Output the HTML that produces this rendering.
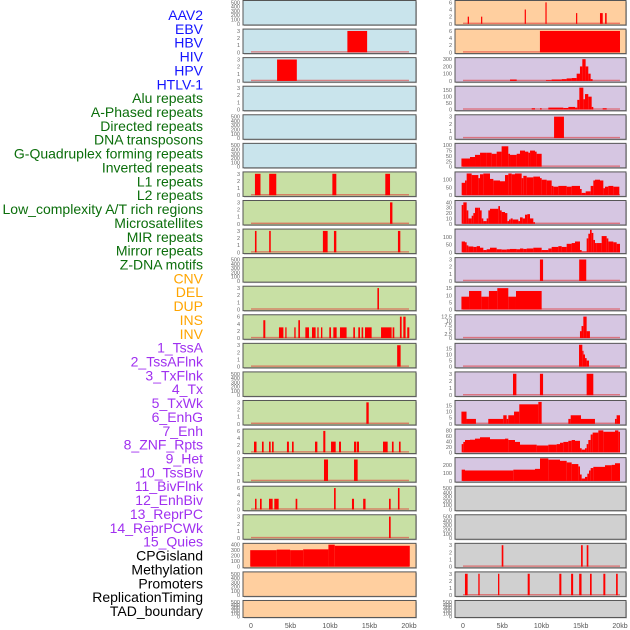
<!DOCTYPE html>
<html><head><meta charset="utf-8">
<style>
body{margin:0;background:#fff;width:630px;height:630px;overflow:hidden}
svg{display:block}
</style></head>
<body>
<svg id="chart" width="630" height="630" xmlns="http://www.w3.org/2000/svg"></svg>
<script>
const trackNames=["AAV2","EBV","HBV","HIV","HPV","HTLV-1","Alu repeats","A-Phased repeats","Directed repeats","DNA transposons","G-Quadruplex forming repeats","Inverted repeats","L1 repeats","L2 repeats","Low_complexity A/T rich regions","Microsatellites","MIR repeats","Mirror repeats","Z-DNA motifs","CNV","DEL","DUP","INS","INV","1_TssA","2_TssAFlnk","3_TxFlnk","4_Tx","5_TxWk","6_EnhG","7_Enh","8_ZNF_Rpts","9_Het","10_TssBiv","11_BivFlnk","12_EnhBiv","13_ReprPC","14_ReprPCWk","15_Quies","CPGisland","Methylation","Promoters","ReplicationTiming","TAD_boundary"];
const trackGroups=["v","v","v","v","v","v","r","r","r","r","r","r","r","r","r","r","r","r","r","s","s","s","s","s","c","c","c","c","c","c","c","c","c","c","c","c","c","c","c","o","o","o","o","o"];
const xTicks=[0,5,10,15,20];
const xTickLabels=["0","5kb","10kb","15kb","20kb"];
const trackYMax=[525,3.15,3.15,3.15,525,525,3.15,3.15,3.15,525,3.15,6.3,3.15,525,3.15,6.3,3.15,6.3,3.15,410,525,525,6.3,6.3,310,175,3.15,105,145,42,145,3.15,15.8,13.1,18.5,3.15,18.5,82,280,525,525,3.15,3.15,525];
const trackTicks=[[0,100,200,300,400,500],[0,1,2,3],[0,1,2,3],[0,1,2,3],[0,100,200,300,400,500],[0,100,200,300,400,500],[0,1,2,3],[0,1,2,3],[0,1,2,3],[0,100,200,300,400,500],[0,1,2,3],[0,2,4,6],[0,1,2,3],[0,100,200,300,400,500],[0,1,2,3],[0,2,4,6],[0,1,2,3],[0,2,4,6],[0,1,2,3],[0,100,200,300,400],[0,100,200,300,400,500],[0,100,200,300,400,500],[0,2,4,6],[0,2,4,6],[0,100,200,300],[0,50,100,150],[0,1,2,3],[0,25,50,75,100],[0,50,100],[0,10,20,30,40],[0,50,100],[0,1,2,3],[0,5,10,15],[0,2.5,5,7.5,10,12.5],[0,5,10,15],[0,1,2,3],[0,5,10,15],[0,20,40,60,80],[0,100,200],[0,100,200,300,400,500],[0,100,200,300,400,500],[0,1,2,3],[0,1,2,3],[0,100,200,300,400,500]];
const segEBV=[[12.2,14.7,3]];
const segHBV=[[3.3,5.8,3]];
const segL1=[[0.5,1.2,3],[2.3,3.2,3],[10.3,10.8,3],[17.0,17.6,3]];
const segL2=[[17.6,17.9,3]];
const segLowC=[[0.5,0.7,3],[2.3,2.5,3],[9.1,9.7,3],[10.5,10.8,3],[18.6,18.9,3]];
const segMIR=[[16.0,16.2,3]];
const segMirror=[[1.56,1.81,5],[3.54,4.1,3],[4.34,4.5,3],[5.48,5.65,3],[5.99,6.2,5],[6.88,7.34,3],[7.72,8.18,3],[8.4,8.56,3],[8.86,9.03,3],[9.91,10.13,3],[10.42,10.84,3],[11.26,12.1,3],[12.95,13.16,3],[13.58,13.8,3],[14.0,14.2,3],[14.43,15.27,3],[16.46,17.8,3],[17.93,18.14,3],[18.85,19.07,6],[19.28,19.57,6],[19.78,20.04,3]];
const segZDNA=[[18.5,18.94,3]];
const segDEL=[[14.6,14.9,3]];
const segDUP=[[0.38,0.7,3],[1.39,1.6,3],[2.28,2.49,3],[2.66,2.87,3],[4.55,4.8,3],[5.19,5.4,3],[8.1,8.4,3],[9.15,9.41,6],[10.13,10.72,3],[11.14,11.39,3],[13.04,13.3,3],[13.38,13.67,3],[16.71,17.3,3],[17.84,18.05,3],[18.73,18.94,3]];
const segINS=[[9.24,9.75,3],[13.04,13.5,3]];
const segINV=[[0.51,0.7,3],[1.14,1.35,3],[2.28,2.74,3],[2.95,3.5,3],[5.65,5.86,3],[10.51,10.72,6],[12.78,13.04,3],[14.2,14.5,3],[17.47,17.68,3],[18.6,18.8,6]];
const segTssA=[[17.47,17.68,3]];
const segTssAFlnk=[[-0.1,3.25,300],[3.25,4.95,310],[4.95,6.6,300],[6.6,9.8,315],[9.8,10.6,400],[10.6,20.1,380]];
const segR0=[[0.6,0.76,2],[2.3,2.45,2],[7.86,8.0,4],[10.5,10.65,6],[14.4,14.55,3],[17.45,17.8,3],[18.1,18.3,3]];
const segR1=[[9.8,20.0,6]];
const segR2=[[5.99,6.84,20],[10.57,11.29,10],[11.29,12.57,20],[12.57,13.2,25],[13.2,13.84,35],[13.84,14.48,40],[14.48,14.9,100],[14.9,15.2,200],[15.2,15.62,300],[15.62,15.96,200],[15.96,16.26,100],[16.26,16.51,25]];
const segR3=[[8.75,9.17,10],[9.81,10.02,10],[10.87,12.78,15],[12.78,13.42,12],[13.42,14.27,20],[14.27,14.56,15],[14.56,14.82,75],[14.82,15.33,170],[15.33,15.54,80],[15.54,15.96,120],[15.96,16.39,100],[16.39,16.6,20],[17.79,18.3,10]];
const segR4=[[11.6,12.86,3]];
const segR5=[[-0.2,0.89,38],[0.89,1.53,45],[1.53,2.17,55],[2.17,3.01,65],[3.01,3.65,65],[3.65,4.29,60],[4.29,4.92,70],[4.92,5.77,95],[5.77,5.99,60],[5.99,6.84,55],[6.84,7.26,60],[7.26,7.9,75],[7.9,8.32,70],[8.32,8.54,65],[8.54,9.17,75],[9.17,9.38,70],[9.38,10.02,60]];
const segR6v=[80,95,140,130,110,135,140,105,95,90,130,140,135,140,110,125,115,120,110,100,95,60,55,60,55,60,40,15,25,60,95,100,95,45,55,60,55];
const segR6e=[125,135,140,155,175,180,190,210,220,240,255,265,275,285,305,310,320,340,360,365,380,395,400,415,440,455,480,485,497,512,520,525,540,550,555,565,580,598];
const segR7v=[35,40,25,10,15,20,30,30,25,10,5,10,25,28,28,33,25,22,20,5,8,10,8,5,12,10,17,18,10,3];
const segR7e=[125,130,140,145,155,160,165,175,180,185,190,200,205,210,225,235,240,245,255,262,267,272,278,295,300,308,315,322,330,340,345];
const segR8v=[70,65,45,38,35,40,30,15,20,30,20,18,20,22,20,25,22,25,30,15,25,35,40,35,55,60,70,15,5,90,120,145,125,80,60,60,105,90,70,65,55];
const segR8e=[125,135,140,145,160,170,180,190,200,210,230,245,260,270,290,300,310,320,340,365,385,395,415,425,440,455,465,480,485,500,505,510,515,520,525,530,545,560,565,580,590,600];
const segR9=[[9.8,10.2,3],[14.8,15.7,3]];
const segR10=[[-0.2,0.77,9],[0.77,2.34,13],[2.34,3.3,9],[3.3,4.37,13],[4.37,5.77,15],[5.77,6.75,9],[6.75,10.02,13]];
const segR11=[[14.9,15.1,4],[15.1,15.33,7],[15.33,15.75,12.5],[15.75,16.17,4]];
const segR12=[[14.78,15.2,18],[15.2,15.33,13],[15.33,15.54,10],[15.54,15.75,7],[15.75,16.05,5]];
const segR13=[[6.37,6.8,3],[9.8,10.2,3],[15.75,16.6,3]];
const segR14=[[-0.2,0.45,10],[0.45,1.65,4],[3.22,5.13,4],[5.13,5.56,7],[5.56,5.77,4],[5.77,6.5,7],[6.5,7.17,10],[7.17,9.6,16],[9.6,10.02,18],[13.42,13.72,4],[13.72,15.03,7],[15.03,16.81,4],[19.36,19.57,4],[19.57,20.0,7]];
const segR15v=[30,38,45,46,50,55,48,50,45,38,28,25,28,30,35,38,42,45,42,15,10,15,30,45,65,72,80,75,80,75];
const segR15e=[125,130,135,150,165,180,210,255,265,285,300,350,385,410,420,430,445,455,465,480,485,495,500,505,512,518,535,550,585,595,600];
const segR16v=[140,130,140,150,280,265,250,230,210,180,80,30,50,90,130,160,175,195,200,220];
const segR16e=[125,135,280,345,360,385,420,440,455,475,480,485,495,502,507,512,520,555,575,585,600];
const segR19=[[4.93,5.14,3],[15.04,15.25,3],[15.76,15.97,3]];
const segR20=[[0.25,0.59,3],[1.95,2.12,3],[4.46,4.63,3],[8.24,8.5,3],[12.27,12.53,3],[13.77,14.03,3],[14.8,15.1,3],[16.18,16.39,3],[17.88,18.13,3],[19.5,19.71,3]];

function zoomKb(z){return (z/3-43)/7.85;}
function fromEdges(v,e){const out=[];for(let i=0;i<v.length;i++)out.push([zoomKb(e[i]),zoomKb(e[i+1]),v[i]]);return out;}
const trackSegs=[null,segEBV,segHBV,null,null,null,segL1,segL2,segLowC,null,segMIR,segMirror,segZDNA,null,segDEL,segDUP,segINS,segINV,segTssA,segTssAFlnk,null,null,
 segR0,segR1,segR2,segR3,segR4,segR5,fromEdges(segR6v,segR6e),fromEdges(segR7v,segR7e),fromEdges(segR8v,segR8e),segR9,segR10,segR11,segR12,segR13,segR14,fromEdges(segR15v,segR15e),fromEdges(segR16v,segR16e),null,null,segR19,segR20,null];

const NS="http://www.w3.org/2000/svg";
const svg=document.getElementById("chart");
function mk(tag,attrs,parent){const e=document.createElementNS(NS,tag);for(const k in attrs)e.setAttribute(k,attrs[k]);(parent||svg).appendChild(e);return e;}
const labelColor={v:"#1414ff",r:"#0b6e0b",s:"#ffa500",c:"#a030f0",o:"#000"};

trackNames.forEach((n,i)=>{
  const t=mk("text",{x:203,y:20+i*13.86,"text-anchor":"end","font-family":"Liberation Sans, sans-serif","font-size":"14",fill:labelColor[trackGroups[i]]});
  t.textContent=n;
  
  
});

const leftOrder=[0,1,2,3,4,5,6,7,8,9,10,11,12,13,14,15,16,17,18,19,20,21];
const rightOrder=[22,23,24,25,26,27,28,29,30,31,32,33,34,35,36,37,38,39,40,41,42,43];
const leftBgs=["#c9e4ec","#c9e4ec","#c9e4ec","#c9e4ec","#c9e4ec","#c9e4ec","#c8e0a4","#c8e0a4","#c8e0a4","#c8e0a4","#c8e0a4","#c8e0a4","#c8e0a4","#c8e0a4","#c8e0a4","#c8e0a4","#c8e0a4","#c8e0a4","#c8e0a4","#ffcf9f","#ffcf9f","#ffcf9f"];
const rightBgs=["#ffcf9f","#ffcf9f","#d6c6e2","#d6c6e2","#d6c6e2","#d6c6e2","#d6c6e2","#d6c6e2","#d6c6e2","#d6c6e2","#d6c6e2","#d6c6e2","#d6c6e2","#d6c6e2","#d6c6e2","#d6c6e2","#d6c6e2","#d0d0d0","#d0d0d0","#d0d0d0","#d0d0d0","#d0d0d0"];

function drawCol(order,bgs,px,pw,x0,pxPerKb,colName){
  order.forEach((ti,row)=>{
    const top=0.5+row*28.57;
    const h=row===21?17:24.5;
    const g=mk("g",{});
    
    
    mk("rect",{x:px+1,y:top+1,width:pw,height:h,fill:"#999",opacity:"0.6"},g);
    const bg=mk("rect",{x:px,y:top,width:pw,height:h,fill:bgs[row],stroke:"#555","stroke-width":"1"},g);
    
    
    const ymax=trackYMax[ti];
    const yb=top+h-1.2, yt=top+0.8;
    const ys=v=>yb-(v/ymax)*(yb-yt);
    const xs=kb=>x0+kb*pxPerKb;
    trackTicks[ti].forEach(tv=>{
      const tl=mk("text",{x:px-3,y:ys(tv)+2,"text-anchor":"end","font-family":"Liberation Sans, sans-serif","font-size":"5.5",fill:"#666"},g);
      tl.textContent=String(tv);
      
      
    });
    const segs=trackSegs[ti];
    if(segs){
      const bl=mk("rect",{x:xs(0),y:yb-1.2,width:xs(20)-xs(0),height:1.4,fill:"#e03030",opacity:"0.55"},g);
      
      
      segs.forEach(s=>{
        const x1=xs(s[0]),x2=xs(s[1]);
        const r=mk("rect",{x:x1,y:ys(s[2]),width:Math.max(1.2,x2-x1),height:yb-ys(s[2]),fill:"#ff0000"},g);
        
        
      });
    }
  });
  xTicks.forEach((k,i)=>{
    const t=mk("text",{x:x0+k*pxPerKb,y:628,"text-anchor":"middle","font-family":"Liberation Sans, sans-serif","font-size":"7",fill:"#555"});
    t.textContent=xTickLabels[i];
    
    
  });
}
drawCol(leftOrder,leftBgs,243,173,251,7.9,"left");
drawCol(rightOrder,rightBgs,455,171,463,7.85,"right");
</script>
</body></html>
